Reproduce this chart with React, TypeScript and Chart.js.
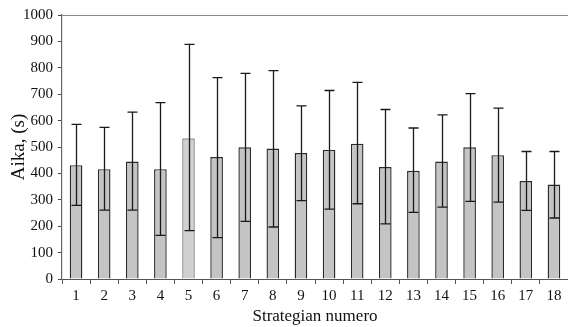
import React, { useEffect, useRef } from "react";
import { Chart, registerables } from "chart.js";

Chart.register(...registerables);

const categories = ["1","2","3","4","5","6","7","8","9","10","11","12","13","14","15","16","17","18"];
const means = [431, 416, 445, 416, 533, 462, 499, 494, 477, 489, 512, 424, 410, 445, 499, 469, 371, 358];
const errHigh = [586, 574, 632, 668, 889, 763, 779, 789, 656, 714, 745, 642, 572, 622, 702, 647, 483, 483];
const errLow = [279, 261, 261, 165, 183, 157, 218, 197, 297, 265, 285, 209, 252, 272, 294, 291, 260, 231];
const yTicks = [0, 100, 200, 300, 400, 500, 600, 700, 800, 900, 1000];

const SERIF = "'Liberation Serif', 'DejaVu Serif', serif";

const errorBarPlugin = {
  id: "errorBars",
  afterDatasetsDraw(chart: any) {
    const meta = chart.getDatasetMeta(0);
    const y = chart.scales.y;
    const ctx = chart.ctx;
    ctx.save();
    ctx.strokeStyle = "#1a1a1a";
    ctx.lineWidth = 1.3;
    meta.data.forEach((bar: any, i: number) => {
      const x = Math.round(bar.x) + 0.5;
      const yh = y.getPixelForValue(errHigh[i]);
      const yl = y.getPixelForValue(errLow[i]);
      const cap = 5;
      ctx.beginPath();
      ctx.moveTo(x, yh);
      ctx.lineTo(x, yl);
      ctx.moveTo(x - cap, yh);
      ctx.lineTo(x + cap, yh);
      ctx.moveTo(x - cap, yl);
      ctx.lineTo(x + cap, yl);
      ctx.stroke();
    });
    ctx.restore();
  },
};

export default function App() {
  const ref = useRef<HTMLCanvasElement>(null);
  useEffect(() => {
    document.body.style.margin = "0";
    const canvas = ref.current!;
    const chart = new Chart(canvas, {
      type: "bar",
      data: {
        labels: categories,
        datasets: [
          {
            data: means,
            backgroundColor: categories.map((_, i) => (i === 4 ? "#d0d0d0" : "#c4c4c4")),
            borderColor: categories.map((_, i) => (i === 4 ? "#8a8a8a" : "#2a2a2a")),
            borderWidth: 1.4,
            barPercentage: 0.9,
            categoryPercentage: 0.5,
          },
        ],
      },
      options: {
        responsive: false,
        animation: false,
        layout: { padding: { top: 15, right: -4, left: 0, bottom: 0 } },
        plugins: { legend: { display: false }, tooltip: { enabled: false } },
        scales: {
          x: {
            grid: {
              display: true,
              drawOnChartArea: false,
              offset: true,
              tickLength: 5,
              color: "#555",
            },
            border: { color: "#555", width: 1 },
            ticks: { font: { family: SERIF, size: 15 }, color: "#111", padding: 3, maxRotation: 0 },
            title: {
              display: true,
              text: "Strategian numero",
              font: { family: SERIF, size: 17 },
              color: "#111",
              padding: { top: 0, bottom: 0 },
            },
            afterFit(scale: any) {
              scale.height = 48;
            },
          },
          y: {
            min: 0,
            max: 1000,
            afterBuildTicks(scale: any) {
              scale.ticks = yTicks.map((v) => ({ value: v }));
            },
            grid: {
              drawOnChartArea: true,
              color: (c: any) => (c.tick && c.tick.value === 1000 ? "#8a8a8a" : "rgba(0,0,0,0)"),
              tickColor: "#444",
              tickLength: 4,
            },
            border: { color: "#666", width: 1.2 },
            ticks: {
              font: { family: SERIF, size: 15 },
              color: "#111",
              padding: 5,
              callback: (v: any) => String(v),
            },
            title: {
              display: true,
              text: "Aika, (s)",
              font: { family: SERIF, size: 19 },
              color: "#111",
              padding: { top: 8, bottom: 0 },
            },
            afterFit(scale: any) {
              scale.width = 62;
            },
          },
        },
      },
      plugins: [errorBarPlugin],
    });
    return () => chart.destroy();
  }, []);
  return <canvas ref={ref} width={568} height={327} style={{ display: "block" }} />;
}
